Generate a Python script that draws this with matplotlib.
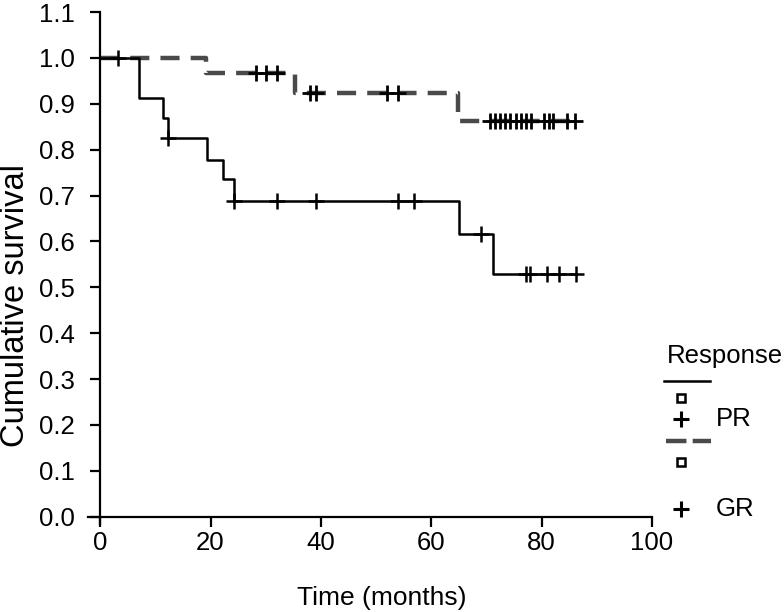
import numpy as np
import matplotlib
matplotlib.use("Agg")
import matplotlib.pyplot as plt
from matplotlib.lines import Line2D

plt.rcParams['font.family'] = ['Liberation Sans', 'DejaVu Sans']

# PR (partial response) – solid
pr_times = [0, 7.1, 11.4, 12.3, 19.4, 22.3, 24.3, 65.0, 71.2]
pr_surv = [1.0, 0.913, 0.870, 0.826, 0.778, 0.737, 0.689, 0.617, 0.528]
pr_end = 86.2
pr_censor = [3.2, 12.3, 24.3, 32.1, 39.1, 54.0, 56.9, 69.0, 77.2, 77.9, 81.0, 83.2, 86.2]

# GR (good response) – dashed
gr_times = [0, 19.2, 35.3, 64.9]
gr_surv = [1.0, 0.967, 0.924, 0.863]
gr_end = 86.4
gr_censor = [28.3, 30.0, 32.1, 38.0, 39.1, 52.0, 54.0,
             70.6, 71.6, 72.5, 73.4, 74.3, 75.3, 76.2, 77.1, 78.0,
             80.4, 81.3, 82.1, 84.6, 86.0]

x_ticks = [0, 20, 40, 60, 80, 100]
y_ticks = [0.0, 0.1, 0.2, 0.3, 0.4, 0.5, 0.6, 0.7, 0.8, 0.9, 1.0, 1.1]


def step_value(times, surv, t):
    idx = np.searchsorted(times, t, side='right') - 1
    return np.asarray(surv)[idx]


W, H = 784, 612
fig = plt.figure(figsize=(W / 100, H / 100), dpi=100)
ax = fig.add_axes([88 / W, 1 - 524 / H, 564 / W, 512 / H])
ax.set_xlim(-2.2, 100)
ax.set_ylim(-0.016, 1.1)

for s in ['top', 'right']:
    ax.spines[s].set_visible(False)
ax.spines['left'].set_position(('data', 0))
ax.spines['bottom'].set_position(('data', 0))
ax.spines['left'].set_bounds(-0.016, 1.1)
ax.spines['bottom'].set_bounds(-2.2, 100)
for s in ['left', 'bottom']:
    ax.spines[s].set_linewidth(1.6)

ax.set_xticks(x_ticks)
ax.set_yticks(y_ticks)
ax.set_yticklabels([f"{v:.1f}" for v in y_ticks])
ax.tick_params(direction='out', length=7, width=1.6, labelsize=18.5)
ax.tick_params(axis='y', pad=11)
ax.tick_params(axis='x', pad=3)

# GR curve
gx = list(gr_times) + [gr_end]
gy = list(gr_surv) + [gr_surv[-1]]
ax.step(gx, gy, where='post', color='#4a4a4a', lw=3.2, dashes=(4.3, 2.5), zorder=2)
ax.plot(gr_censor, step_value(gr_times, gr_surv, gr_censor), ls='none', marker='+',
        ms=11, mew=2.0, color='black', zorder=4)

# PR curve
px = list(pr_times) + [pr_end]
py = list(pr_surv) + [pr_surv[-1]]
ax.step(px, py, where='post', color='black', lw=1.8, zorder=3)
ax.plot(pr_censor, step_value(pr_times, pr_surv, pr_censor), ls='none', marker='+',
        ms=11, mew=1.8, color='black', zorder=4)

fig.text(382 / W, 1 - 598 / H, 'Time (months)', fontsize=19, ha='center', va='center')
fig.text(16 / W, 1 - 306 / H, 'Cumulative survival', rotation=90, fontsize=23.5,
         ha='center', va='center')

# Legend drawn manually in pixel space
lg = fig.add_axes([0, 0, 1, 1], zorder=5)
lg.set_xlim(0, W)
lg.set_ylim(H, 0)
lg.axis('off')
lg.patch.set_alpha(0)
lg.text(667, 356, 'Response', fontsize=18.5, ha='left', va='center')
lg.add_line(Line2D([664, 710], [381, 381], color='black', lw=1.8))
lg.plot([681], [398], marker='s', ms=5.5, mfc='white', mec='black', mew=1.8)
lg.plot([681], [419], marker='+', ms=11, mew=2.2, color='black')
lg.text(716, 419, 'PR', fontsize=18.5, ha='left', va='center')
lg.add_line(Line2D([666, 711], [441, 441], color='#4a4a4a', lw=3.2, dashes=(4.6, 1.4)))
lg.plot([681], [462], marker='s', ms=5.5, mfc='white', mec='black', mew=1.8)
lg.plot([681], [509], marker='+', ms=11, mew=2.2, color='black')
lg.text(716, 509, 'GR', fontsize=18.5, ha='left', va='center')

fig.savefig('out.png', dpi=100)
